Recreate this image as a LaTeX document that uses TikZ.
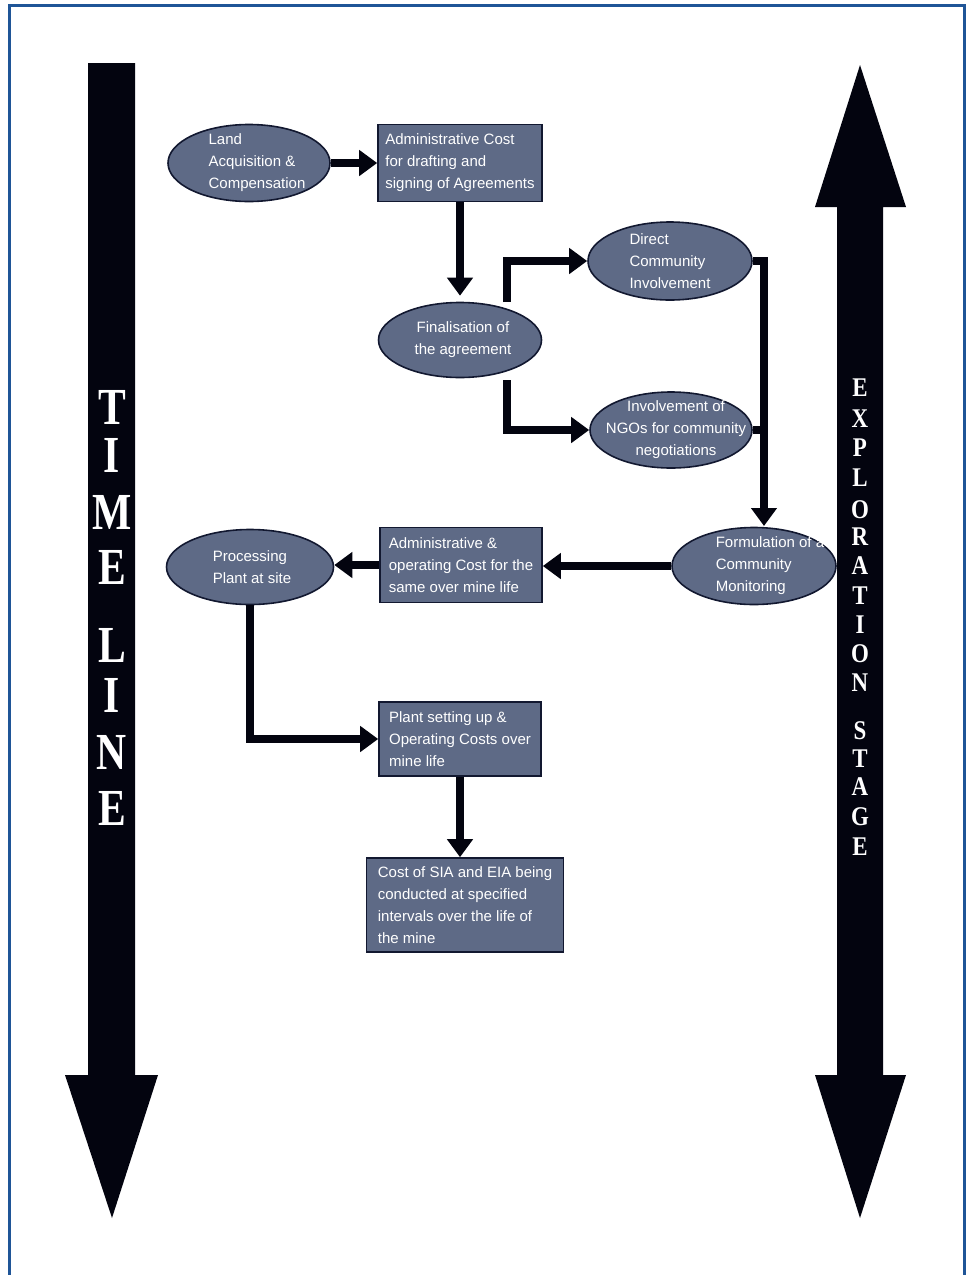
\documentclass[tikz,border=0pt]{standalone}
\usepackage{fontspec}
\setmainfont{Liberation Sans}
\newfontfamily\stagefont{Liberation Serif}
\usepackage{tikz}
\usetikzlibrary{arrows.meta, positioning, calc, shapes.geometric}
\usepackage{xcolor}
\definecolor{framblue}{HTML}{1F5597}
\definecolor{slate}{HTML}{5E6A86}
\definecolor{ovalline}{HTML}{121830}
\definecolor{ink}{HTML}{03040F}
\newcommand{\flowfont}{\fontsize{15}{22}\selectfont}

\begin{document}
\begin{tikzpicture}[
  x=1pt, y=-1pt,
  stepoval/.style={draw=ovalline, ellipse, fill=slate, line width=1.6pt,
    inner sep=0pt},
  ovaltext/.style={text=white, font=\flowfont, inner sep=0pt},
  costbox/.style={draw=ovalline, rectangle, fill=slate, line width=1.6pt,
    text=white, font=\flowfont, align=left, inner sep=4pt},
  flow/.style={draw=ink, line width=8.5pt,
    -{Triangle[length=18pt, width=25pt]}},
  bar/.style={draw=ink, line width=8.5pt},
  timechar/.style={text=white, font=\stagefont\bfseries\fontsize{52}{52}\selectfont,
    inner sep=0pt},
  stagechar/.style={text=white, font=\stagefont\bfseries\fontsize{27}{27}\selectfont,
    inner sep=0pt}
]
  \useasboundingbox (0,0) rectangle (968,1275);

  % Frame
  \draw[framblue, line width=3pt] (9,1280) -- (9,5) -- (964,5) -- (964,1280);

  % Time line arrow
  \fill[ink] (88,63) -- (135,63) -- (135,1075) -- (158,1075) -- (112,1218)
    -- (65,1075) -- (88,1075) -- cycle;
  \foreach \ch/\yy [count=\k] in {T/407, I/455, M/512, E/567,
    L/645, I/695, N/752, E/808} {
    \node[timechar] (tl\k) at (112,\yy) {\scalebox{0.8}[1]{\ch}};
  }

  % Exploration stage arrow
  \fill[ink] (860,65) -- (906,207) -- (883,207) -- (883,1075) -- (906,1075)
    -- (860,1218) -- (815,1075) -- (837,1075) -- (837,207) -- (815,207) -- cycle;
  \foreach \ch/\yy [count=\k] in {E/388, X/419, P/448, L/478, O/510, R/537,
    A/566, T/596, I/625, O/654, N/683, S/731, T/759, A/787, G/817, E/847} {
    \node[stagechar] (st\k) at (860,\yy) {\scalebox{0.85}[1]{\ch}};
  }

  % Ovals
  \node[stepoval, minimum width=162pt, minimum height=77pt] (land) at (249,163) {};
  \node[ovaltext, align=left] (landtxt) at (257,163)
    {Land\\Acquisition \&\\Compensation};
  \node[stepoval, minimum width=163pt, minimum height=75pt] (final) at (460,340) {};
  \node[ovaltext, align=center] (finaltxt) at (463,340)
    {Finalisation of\\the agreement};
  \node[stepoval, minimum width=164pt, minimum height=78pt] (direct) at (670,261) {};
  \node[ovaltext, align=left] (directtxt) at (670,261)
    {Direct\\Community\\Involvement};
  \node[stepoval, minimum width=162pt, minimum height=76pt] (ngo) at (671,430) {};
  \node[ovaltext, align=center] (ngotxt) at (676,430)
    {Involvement of\\NGOs for community\\negotiations};
  \node[stepoval, minimum width=164pt, minimum height=77pt] (form) at (754,566) {};
  \node[ovaltext, align=left] (formtxt) at (770,566)
    {Formulation of a\\Community\\Monitoring};
  \node[stepoval, minimum width=167pt, minimum height=75pt] (proc) at (250,567) {};
  \node[ovaltext, align=left] (proctxt) at (252,567)
    {Processing\\Plant at site};

  % Cost boxes
  \node[costbox, minimum width=164pt, minimum height=77pt] (admincost) at (460,163)
    {Administrative Cost\\for drafting and\\signing of Agreements};
  \node[costbox, minimum width=162pt, minimum height=75pt] (samecost) at (461,565)
    {Administrative \&\\operating Cost for the\\same over mine life};
  \node[costbox, minimum width=162pt, minimum height=74pt] (plantcost) at (460,739)
    {Plant setting up \&\\Operating Costs over\\mine life};
  \node[costbox, minimum width=197pt, minimum height=94pt] (siacost) at (465,905)
    {Cost of SIA and EIA being\\conducted at specified\\intervals over the life of\\the mine};

  % Connections
  \coordinate (finup) at (507,302);
  \coordinate (findown) at (507,380);
  \coordinate (mergedown) at (764,526);
  \draw[flow] (land.east) -- (admincost.west);
  \draw[flow, shorten >=6pt] (admincost.south) -- (admincost.south |- final.north);
  \draw[flow] (finup) |- (direct.west);
  \draw[flow] (findown) |- (ngo.west);
  \draw[flow] (direct.east) -| (mergedown);
  \draw[bar] (ngo.east) -- (ngo.east -| mergedown);
  \draw[flow] (form.west) -- (form.west -| samecost.east);
  \draw[flow] (samecost.west) -- (samecost.west -| proc.east);
  \draw[flow] (proc.south) |- (plantcost.west);
  \draw[flow] (plantcost.south) -- (plantcost.south |- siacost.north);
\end{tikzpicture}
\end{document}
